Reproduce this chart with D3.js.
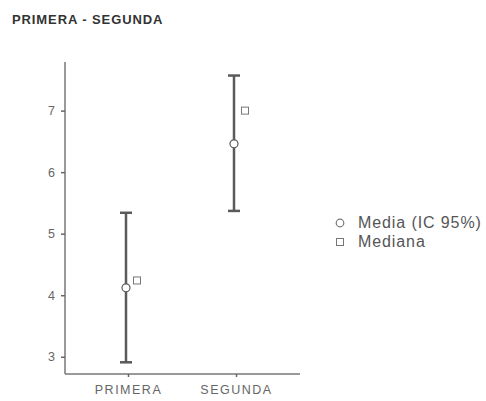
<!DOCTYPE html>
<html>
<head>
<meta charset="utf-8">
<script src="https://cdn.jsdelivr.net/npm/d3@7"></script>
<style>
  body { margin: 0; background: #fff; }
  text { font-family: "Liberation Sans", Arial, sans-serif; }
</style>
</head>
<body>
<script>
// data
var groups = ["PRIMERA", "SEGUNDA"];
var means = [4.12, 6.46];
var ciLow = [2.91, 5.37];
var ciHigh = [5.34, 7.57];
var medians = [4.24, 7.0];
var yTicks = [3, 4, 5, 6, 7];
var legendLabels = ["Media (IC 95%)", "Mediana"];

var svgWidth = 486, svgHeight = 401;
var svg = d3.select("body").append("svg").attr("width", svgWidth).attr("height", svgHeight);

var grey = "#5a5a5a";

// title
svg.append("text")
    .attr("x", 12).attr("y", 24)
    .attr("font-family", "Open Sans")
    .attr("font-weight", "bold")
    .attr("font-size", "13px")
    .attr("letter-spacing", "0.9px")
    .attr("fill", "#333")
    .text("PRIMERA - SEGUNDA");

var xScale = d3.scalePoint().domain(groups).range([126, 234]);
var yScale = d3.scaleLinear().domain([2.72, 7.79]).range([374, 62]);

// axes lines
svg.append("line").attr("x1", 65).attr("x2", 65).attr("y1", 62).attr("y2", 374)
    .attr("stroke", "#777").attr("stroke-width", 1.5);
svg.append("line").attr("x1", 65).attr("x2", 300).attr("y1", 374).attr("y2", 374)
    .attr("stroke", "#777").attr("stroke-width", 1.5);

var yAxis = d3.axisLeft(yScale).tickValues(yTicks).tickFormat(d3.format("d")).tickSize(4).tickPadding(6);
var gy = svg.append("g").attr("transform", "translate(65,0)").call(yAxis);
gy.select(".domain").remove();
gy.selectAll(".tick line").attr("stroke", "#666").attr("stroke-width", 1.5);
gy.selectAll(".tick text").attr("fill", "#666").attr("font-size", "12.5px")
    .attr("font-family", "Liberation Sans");

var xAxis = d3.axisBottom(xScale).tickSize(3).tickPadding(8);
var gx = svg.append("g").attr("transform", "translate(2,374)").call(xAxis);
gx.select(".domain").remove();
gx.selectAll(".tick line").attr("stroke", "#666").attr("stroke-width", 1.5);
gx.selectAll(".tick text").attr("fill", "#666").attr("font-size", "12.5px")
    .attr("letter-spacing", "1.5px")
    .attr("font-family", "Liberation Sans");

// error bars
var bars = svg.append("g");
groups.forEach(function(g, i) {
  var x = xScale(g);
  bars.append("line").attr("x1", x).attr("x2", x)
      .attr("y1", yScale(ciLow[i])).attr("y2", yScale(ciHigh[i]))
      .attr("stroke", grey).attr("stroke-width", 2.5);
  [ciLow[i], ciHigh[i]].forEach(function(v) {
    bars.append("line").attr("x1", x - 6).attr("x2", x + 6)
        .attr("y1", yScale(v)).attr("y2", yScale(v))
        .attr("stroke", grey).attr("stroke-width", 2.5);
  });
});

// mean points
svg.selectAll(".mean")
    .data(means)
  .enter().append("circle")
    .attr("class", "mean")
    .attr("cx", function(d, i) { return xScale(groups[i]); })
    .attr("cy", function(d) { return yScale(d); })
    .attr("r", 4)
    .attr("fill", "#fff")
    .attr("stroke", grey)
    .attr("stroke-width", 1.2);

// medians
svg.selectAll(".median")
    .data(medians)
  .enter().append("rect")
    .attr("class", "median")
    .attr("x", function(d, i) { return xScale(groups[i]) + 11 - 3.5; })
    .attr("y", function(d) { return yScale(d) - 3.5; })
    .attr("width", 7).attr("height", 7)
    .attr("fill", "#fff")
    .attr("stroke", "#777")
    .attr("stroke-width", 1);

// legend
var legend = svg.append("g");
legend.append("circle").attr("cx", 340).attr("cy", 223).attr("r", 3.8)
    .attr("fill", "#fff").attr("stroke", "#777").attr("stroke-width", 1.2);
legend.append("rect").attr("x", 336.5).attr("y", 238.5).attr("width", 7).attr("height", 7)
    .attr("fill", "#fff").attr("stroke", "#777").attr("stroke-width", 1);
legend.selectAll(".lab")
    .data(legendLabels)
  .enter().append("text")
    .attr("class", "lab")
    .attr("x", 358)
    .attr("y", function(d, i) { return 228 + i * 19; })
    .attr("font-size", "16px")
    .attr("letter-spacing", "0.9px")
    .attr("fill", "#555")
    .text(function(d) { return d; });
</script>
</body>
</html>
